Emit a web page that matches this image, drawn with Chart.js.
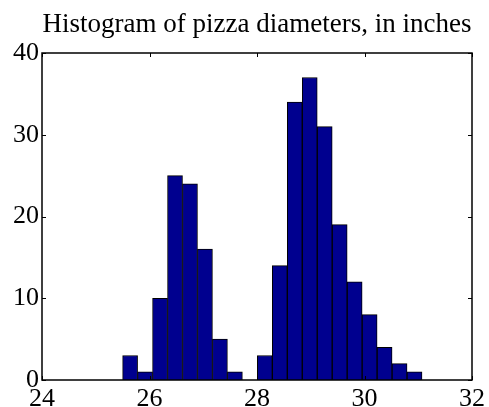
<!DOCTYPE html>
<html>
<head>
<meta charset="utf-8">
<script src="https://cdn.jsdelivr.net/npm/chart.js@4"></script>
<style>
html,body{margin:0;padding:0;background:#fff;}
#wrap{width:489px;height:407px;position:relative;}
</style>
</head>
<body>
<div id="wrap"><canvas id="c" width="489" height="407"></canvas></div>
<script>
const titleText = "Histogram of pizza diameters, in inches";
const binStart = 25.5;
const binWidth = 0.2785;
const counts = [3, 1, 10, 25, 24, 16, 5, 1, 0, 3, 14, 34, 37, 31, 19, 12, 8, 4, 2, 1];
const xTicks = [24, 26, 28, 30, 32];
const yTicks = [0, 10, 20, 30, 40];

const points = counts.map((c, i) => ({ x: binStart + binWidth * (i + 0.5), y: c }));

const frame = {
  id: 'frame',
  afterDraw(chart) {
    const { ctx, chartArea: a, scales } = chart;
    ctx.save();
    ctx.strokeStyle = '#000';
    ctx.lineWidth = 1;
    ctx.beginPath();
    xTicks.forEach(v => {
      const px = Math.round(scales.x.getPixelForValue(v)) + 0.5;
      ctx.moveTo(px, a.top); ctx.lineTo(px, a.top + 4);
      ctx.moveTo(px, a.bottom); ctx.lineTo(px, a.bottom - 4);
    });
    yTicks.forEach(v => {
      const py = Math.round(scales.y.getPixelForValue(v)) + 0.5;
      ctx.moveTo(a.left, py); ctx.lineTo(a.left + 4, py);
      ctx.moveTo(a.right, py); ctx.lineTo(a.right - 4, py);
    });
    ctx.stroke();
    ctx.lineWidth = 1.5;
    ctx.strokeRect(a.left, a.top, a.right - a.left, a.bottom - a.top);
    // title centred over the axes, as in the reference
    ctx.fillStyle = '#000';
    ctx.font = '27px "Liberation Serif"';
    ctx.textAlign = 'center';
    ctx.textBaseline = 'alphabetic';
    ctx.fillText(titleText, (a.left + a.right) / 2, 32);
    ctx.restore();
  }
};

new Chart(document.getElementById('c'), {
  type: 'bar',
  data: {
    datasets: [{
      data: points,
      backgroundColor: '#00008F',
      borderColor: '#000',
      borderWidth: 1,
      barPercentage: 1,
      categoryPercentage: 1
    }]
  },
  options: {
    responsive: false,
    animation: false,
    devicePixelRatio: 1,
    layout: { padding: { left: 0, right: 15, top: 53, bottom: 0 } },
    plugins: {
      legend: { display: false },
      tooltip: { enabled: false },
      title: { display: false }
    },
    scales: {
      x: {
        type: 'linear',
        min: 24, max: 32,
        offset: false,
        grid: { display: false, drawTicks: false },
        border: { display: false },
        afterBuildTicks(s) { s.ticks = xTicks.map(v => ({ value: v })); },
        afterFit(s) { s.height = 27; },
        ticks: {
          color: '#000', padding: 4,
          font: { family: 'Liberation Serif', size: 26 },
          maxRotation: 0, autoSkip: false
        }
      },
      y: {
        min: 0, max: 40,
        grid: { display: false, drawTicks: false },
        border: { display: false },
        afterBuildTicks(s) { s.ticks = yTicks.map(v => ({ value: v })); },
        afterFit(s) { s.width = 42; },
        ticks: {
          color: '#000', padding: 3,
          font: { family: 'Liberation Serif', size: 26 }
        }
      }
    }
  },
  plugins: [frame]
});
</script>
</body>
</html>
